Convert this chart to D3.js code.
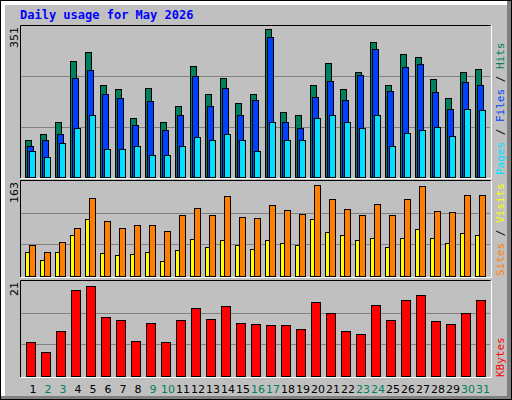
<!DOCTYPE html>
<html><head><meta charset="utf-8">
<script src="https://cdn.jsdelivr.net/npm/d3@7"></script>
<style>body{margin:0;background:#fff}svg{display:block}</style>
</head><body><svg width="512" height="400"></svg>
<script>
const days = d3.range(1, 32);
const weekend = [2, 3, 9, 10, 16, 17, 23, 24, 30, 31];
const hits  = [87,99,127,269,290,213,204,138,208,129,164,257,192,231,173,194,343,152,145,213,266,204,245,313,213,285,280,227,183,243,250];
const files = [71,87,99,229,248,194,183,120,176,110,145,234,164,208,145,180,325,129,115,185,222,178,236,297,199,255,262,197,159,220,213];
const pages = [61,47,80,113,145,66,66,73,50,52,71,94,85,101,87,61,127,85,87,136,145,127,115,143,73,103,110,117,96,157,155];
const visits = [41,27,41,70,98,39,36,37,41,25,44,63,49,61,54,46,61,56,54,98,76,70,61,65,49,66,80,66,56,73,70];
const sites  = [54,41,58,82,134,95,82,87,88,78,104,117,105,138,102,100,121,114,107,156,132,115,105,124,105,132,155,112,110,139,139];
const kbytes = [7.5,5.3,9.9,19.1,20.0,13.0,12.3,7.7,11.7,7.5,12.3,15.0,12.6,15.4,11.7,11.5,11.2,11.2,10.4,16.3,13.9,9.9,9.3,15.8,12.3,16.7,18.0,12.1,11.5,13.9,16.9];
const maxTop = 351, maxMid = 163, maxBot = 21;

const svg = d3.select("svg");
const font = "DejaVu Sans Mono, monospace";

// bevelled background
svg.append("rect").attr("width", 512).attr("height", 400).attr("fill", "#000");
svg.append("rect").attr("x", 1).attr("y", 1).attr("width", 510).attr("height", 398).attr("fill", "#808080");
svg.append("rect").attr("x", 1).attr("y", 1).attr("width", 506).attr("height", 395).attr("fill", "#fff");
svg.append("rect").attr("x", 5).attr("y", 5).attr("width", 502).attr("height", 391).attr("fill", "#c0c0c0");

svg.append("text").attr("x", 20).attr("y", 19)
    .attr("font-family", font).attr("font-weight", "bold").attr("font-size", 12)
    .attr("fill", "#0000ff").text("Daily usage for May 2026");

const x = d3.scaleBand().domain(days).range([23, 488]).padding(0);

const panels = [
  {top: 25, bottom: 178, max: maxTop},
  {top: 180, bottom: 277, max: maxMid},
  {top: 280, bottom: 377, max: maxBot}
];

panels.forEach(p => {
  p.y = d3.scaleLinear().domain([0, p.max]).range([p.bottom - 1, p.top + 1]);
  const g = svg.append("g");
  [1, 2].forEach(i => {
    const yy = Math.round(p.bottom - 1 - (p.bottom - p.top - 2) * i / 3) + 0.5;
    g.append("line").attr("x1", 21).attr("x2", 490).attr("y1", yy).attr("y2", yy)
        .attr("stroke", "#808080");
  });
  g.append("path").attr("d", `M20.5,${p.bottom}V${p.top + 0.5}H490.5`).attr("fill", "none").attr("stroke", "#000");
  g.append("path").attr("d", `M20.5,${p.bottom + 0.5}H491.5V${p.top + 0.5}`).attr("fill", "none").attr("stroke", "#fff");
  svg.append("text")
      .attr("transform", `translate(18,${p.top + 2}) rotate(-90)`)
      .attr("text-anchor", "end").attr("font-family", "DejaVu Sans, sans-serif")
      .attr("font-size", 11).attr("fill", "#000").text(p.max);
});

function bars(vals, panel, dx, w, color) {
  const y = panel.y;
  svg.append("g").selectAll("rect").data(vals).join("rect")
      .attr("x", (d, i) => x(days[i]) + dx + 0.5)
      .attr("y", d => Math.round(y(d)) + 0.5)
      .attr("width", w)
      .attr("height", d => y(0) - Math.round(y(d)))
      .attr("fill", color).attr("stroke", "#000");
}

bars(hits, panels[0], 2, 6, "#00805c");
bars(files, panels[0], 4, 6, "#0040ff");
bars(pages, panels[0], 6, 6, "#00e0ff");
bars(visits, panels[1], 2, 6, "#ffff00");
bars(sites, panels[1], 6, 6, "#ff8000");
bars(kbytes, panels[2], 3, 9, "#ff0000");

svg.append("g").selectAll("text").data(days).join("text")
    .attr("x", d => x(d) + 10)
    .attr("y", 393)
    .attr("text-anchor", "middle")
    .attr("font-family", "DejaVu Sans, sans-serif").attr("font-size", 11)
    .attr("fill", d => weekend.includes(d) ? "#00805c" : "#000")
    .text(d => d);

function sideLabel(yEnd, parts) {
  const t = svg.append("text")
      .attr("transform", `translate(504,${yEnd}) rotate(-90)`)
      .attr("font-family", font).attr("font-size", 11);
  parts.forEach(([s, c]) => t.append("tspan").attr("fill", c).text(s));
}
sideLabel(175, [["Pages", "#00e0ff"], [" / ", "#000"], ["Files", "#0040ff"], [" / ", "#000"], ["Hits", "#00805c"]]);
sideLabel(276, [["Sites", "#ff8000"], [" / ", "#000"], ["Visits", "#ffff00"]]);
sideLabel(377, [["KBytes", "#ff0000"]]);
</script>
</body></html>
